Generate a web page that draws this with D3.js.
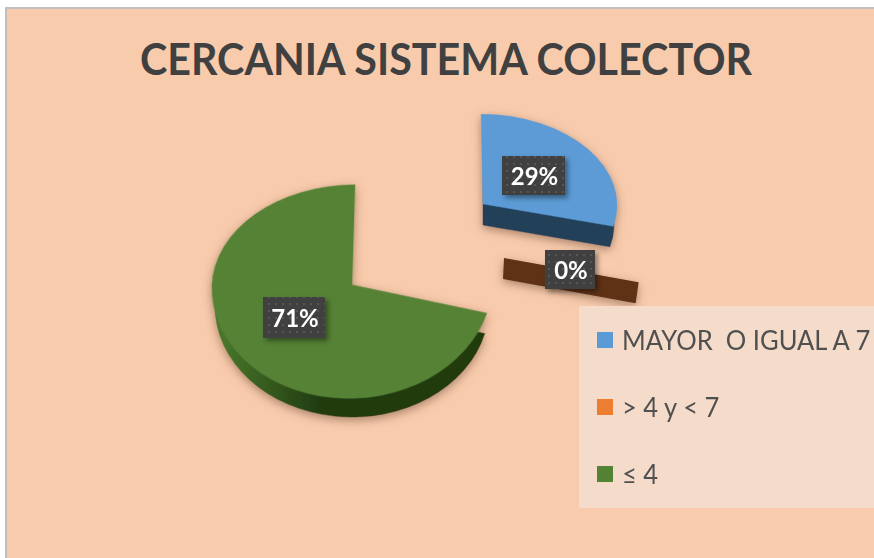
<!DOCTYPE html>
<head>
    <meta charset="utf-8">
    <title>Cercania sistema colector</title>
    <style>
        html, body { margin: 0; padding: 0; background: #fff; }
        svg { display: block; }
        text { font-family: Lato, "Open Sans", sans-serif; }
        .title { font-size: 44px; font-weight: 700; fill: #404040; }
        .legend-label { font-size: 27.5px; fill: #505050; }
        .pct { font-size: 24px; font-weight: 700; fill: #fff; }
    </style>
</head>
<body>
<script src="https://d3js.org/d3.v7.min.js"></script>
<script>

var titleText = "CERCANIA SISTEMA COLECTOR";
var categories = ["MAYOR  O IGUAL A 7", "> 4 y < 7", "≤ 4"];
var values = [29, 0, 71];
var topColors = ["#5b9bd5", "#5f3212", "#548235"];
var legendColors = ["#5b9bd5", "#ed7d31", "#548235"];
var wallColors = ["#223f59", "#5f3212", "url(#greenWall)"];

var width = 874,
    height = 558,
    depth = 21;

// where each exploded slice ends up: tip of the wedge, radius, squash, lean
var apex = [[483, 204], [504, 258], [352, 285]];
var radius = [134, 139, 140];
var squash = [[0.67, 0.67], [0.7, 0.7], [0.72, 0.81]]; // upper, lower part of the ellipse
var lean = [1.2, 0, -1.7];
var labelBox = [[502, 156, 63, 39], [545, 250, 50, 39], [263, 297, 62, 41]];

var total = d3.sum(values);
var pct = d3.format(".0%");

var svg = d3.select("body").append("svg")
    .attr("width", width)
    .attr("height", height);

var defs = svg.append("defs");

var soft = defs.append("filter").attr("id", "soft")
    .attr("x", "-30%").attr("y", "-30%").attr("width", "160%").attr("height", "160%");
soft.append("feDropShadow")
    .attr("dx", 0).attr("dy", 3).attr("stdDeviation", 5)
    .attr("flood-color", "#6b4a33").attr("flood-opacity", 0.55);

var boxShadow = defs.append("filter").attr("id", "boxShadow")
    .attr("x", "-30%").attr("y", "-30%").attr("width", "160%").attr("height", "160%");
boxShadow.append("feDropShadow")
    .attr("dx", 3).attr("dy", 3).attr("stdDeviation", 2.5)
    .attr("flood-color", "#000").attr("flood-opacity", 0.4);

var wallGrad = defs.append("linearGradient").attr("id", "greenWall");
wallGrad.append("stop").attr("offset", "0%").attr("stop-color", "#4a7a2c");
wallGrad.append("stop").attr("offset", "40%").attr("stop-color", "#203a10");
wallGrad.append("stop").attr("offset", "100%").attr("stop-color", "#203a10");

var dots = defs.append("pattern").attr("id", "dots")
    .attr("patternUnits", "userSpaceOnUse")
    .attr("width", 7).attr("height", 7);
dots.append("rect").attr("width", 7).attr("height", 7).attr("fill", "#3f3f3f");
dots.append("rect").attr("x", 2).attr("y", 2).attr("width", 2).attr("height", 2).attr("fill", "#565656");

// background + the grey frame of the pasted picture
svg.append("rect").attr("x", 6).attr("y", 8).attr("width", width).attr("height", height)
    .attr("fill", "#f8cbad").attr("stroke", "#bfbfbf").attr("stroke-width", 2);

svg.append("text")
    .attr("class", "title")
    .attr("x", 140)
    .attr("y", 75)
    .attr("textLength", 612)
    .attr("lengthAdjust", "spacingAndGlyphs")
    .text(titleText);

var pie = d3.pie().sort(null);
var slices = pie(values);

// one wedge of the ellipse, split at the left so top and bottom can squash differently
function wedge(g, d, i, r, dy, fill, isWall) {
  var split = Math.PI * 1.5;
  var parts = [];
  if (d.startAngle < split && d.endAngle > split) {
    if (!isWall) parts.push([split, d.endAngle, squash[i][0], 0.6]); // nudged down to hide the seam
    parts.push([d.startAngle, split, squash[i][1], 0]);
  } else {
    parts.push([d.startAngle, d.endAngle, squash[i][0], 0]);
  }
  parts.forEach(function(p) {
    g.append("path")
      .attr("transform", "translate(" + apex[i][0] + "," + (apex[i][1] + dy + p[3]) + ")skewX(" + (isWall ? 0 : lean[i]) + ")scale(1," + p[2] + ")")
      .attr("fill", fill)
      .attr("stroke", fill)
      .attr("stroke-width", 0.5)
      .attr("d", d3.arc()({innerRadius: 0, outerRadius: r, startAngle: p[0], endAngle: p[1]}));
  });
}

// 0% has no top face, only its cut wall shows
function zeroWall(g, d, i) {
  var rim = d3.pointRadial(d.startAngle, radius[i]);
  var a = apex[i];
  var b = [a[0] + rim[0], a[1] + rim[1] * squash[i][0]];
  g.append("path")
    .attr("fill", wallColors[i])
    .attr("d", d3.line()([a, b, [b[0] - 3, b[1] + depth], [a[0] - 1, a[1] + depth]]) + "Z");
}

slices.forEach(function(d, i) {
  var g = svg.append("g").attr("filter", "url(#soft)");
  if (d.value === 0) {
    zeroWall(g, d, i);
    return;
  }
  wedge(g, d, i, radius[i] - 3, depth, wallColors[i], true);
  wedge(g, d, i, radius[i], 0, topColors[i], false);
});

// percent labels
var labels = svg.selectAll(".label")
    .data(slices)
  .enter().append("g")
    .attr("class", "label");

labels.append("rect")
    .attr("x", function(d, i) { return labelBox[i][0]; })
    .attr("y", function(d, i) { return labelBox[i][1]; })
    .attr("width", function(d, i) { return labelBox[i][2]; })
    .attr("height", function(d, i) { return labelBox[i][3]; })
    .attr("fill", "url(#dots)")
    .attr("filter", "url(#boxShadow)");

labels.append("text")
    .attr("class", "pct")
    .attr("x", function(d, i) { return labelBox[i][0] + labelBox[i][2] / 2 + 1; })
    .attr("y", function(d, i) { return labelBox[i][1] + labelBox[i][3] / 2 + 1; })
    .attr("dy", "0.36em")
    .attr("text-anchor", "middle")
    .text(function(d) { return pct(d.value / total); });

// legend
svg.append("rect")
    .attr("x", 579).attr("y", 306)
    .attr("width", width - 579).attr("height", 202)
    .attr("fill", "#f5dbc9");

var legendY = d3.scalePoint().domain(categories).range([340, 474]);

var legend = svg.selectAll(".legend")
    .data(categories)
  .enter().append("g")
    .attr("class", "legend")
    .attr("transform", function(d) { return "translate(597," + legendY(d) + ")"; });

legend.append("rect")
    .attr("y", -8)
    .attr("width", 16)
    .attr("height", 16)
    .attr("fill", function(d, i) { return legendColors[i]; });

legend.append("text")
    .attr("class", "legend-label")
    .attr("transform", "translate(25,0)scale(0.93,1)")
    .attr("dy", "0.36em")
    .style("white-space", "pre")
    .text(function(d) { return d; });

</script>
</body>
